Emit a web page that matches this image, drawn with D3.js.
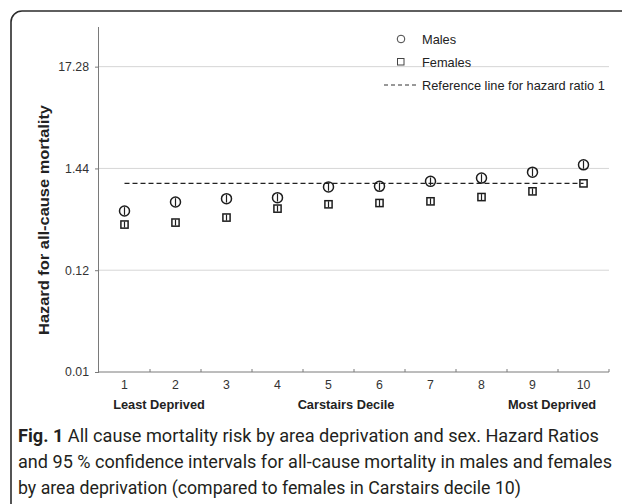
<!DOCTYPE html>
<html><head><meta charset="utf-8">
<script src="https://cdn.jsdelivr.net/npm/d3@7"></script>
<style>
body{margin:0;background:#fff;}svg{display:block;}
.ar{font-family:"Liberation Sans",Arial,sans-serif;}
.cap{font-family:Roboto,"Noto Sans",sans-serif;}
</style>
</head><body>
<svg id="c" width="622" height="504"></svg>
<script>
const categories = ["1","2","3","4","5","6","7","8","9","10"];
const maleHR   = [0.509,0.634,0.689,0.706,0.918,0.930,1.050,1.138,1.314,1.573];
const maleLo   = [0.463,0.576,0.626,0.642,0.835,0.845,0.955,1.035,1.195,1.430];
const maleHi   = [0.560,0.697,0.758,0.777,1.010,1.023,1.155,1.252,1.445,1.730];
const femaleHR = [0.366,0.384,0.434,0.540,0.600,0.619,0.645,0.716,0.823,1.000];
const femaleLo = [0.340,0.357,0.403,0.502,0.558,0.575,0.599,0.665,0.765,1.000];
const femaleHi = [0.394,0.413,0.467,0.581,0.646,0.666,0.694,0.770,0.886,1.000];
const yTicks = [0.01,0.12,1.44,17.28];
const yTickLabels = ["0.01","0.12","1.44","17.28"];
const refValue = 1;
const groupLabels = ["Least Deprived","Carstairs Decile","Most Deprived"];
const legendLabels = ["Males","Females","Reference line for hazard ratio 1"];
const yTitle = "Hazard for all-cause mortality";

const svg = d3.select("#c");
const L = 99, R = 609, T = 27, B = 372;
const x = d3.scaleBand().domain(categories).range([L, R]);
const y = d3.scaleLog().domain([0.01, 45.5]).range([B, T]);

// outer frame
svg.append("rect").attr("x",11).attr("y",11).attr("width",640).attr("height",520)
  .attr("rx",11).attr("fill","none").attr("stroke","#2b2b2b").attr("stroke-width",1.6);

// gridlines
svg.append("g").selectAll("line").data(yTicks.slice(1)).join("line")
  .attr("x1",L).attr("x2",R).attr("y1",d=>y(d)).attr("y2",d=>y(d))
  .attr("stroke","#d6d6d6").attr("stroke-width",1);

// y axis
const ya = svg.append("g").attr("transform",`translate(${L},0)`)
  .call(d3.axisLeft(y).tickValues(yTicks).tickFormat((d,i)=>yTickLabels[i]).tickSize(4).tickPadding(6));
ya.attr("font-family",null);
ya.select(".domain").attr("stroke","#7a7a7a").attr("d",`M-0.5,${T}V${B}`);
ya.selectAll(".tick line").attr("stroke","#7a7a7a");
ya.selectAll("text").attr("class","ar").attr("font-size",12.3).attr("fill","#333");

// x axis
const xa = svg.append("g").attr("transform",`translate(0,${B})`)
  .call(d3.axisBottom(x).tickSize(0).tickPadding(8));
xa.attr("font-family",null);
xa.select(".domain").attr("stroke","#7a7a7a").attr("d",`M${L},0H${R}`);
xa.selectAll("text").attr("class","ar").attr("font-size",12.3).attr("fill","#333");
const bounds = categories.map(c=>x(c)+x.bandwidth());
svg.append("g").selectAll("line").data(bounds).join("line")
  .attr("x1",d=>d).attr("x2",d=>d).attr("y1",B).attr("y2",B-3)
  .attr("stroke","#7a7a7a");

// group labels
svg.append("g").selectAll("text").data(groupLabels).join("text")
  .attr("class","ar")
  .attr("x",(d,i)=>[159,346,552][i]).attr("y",409).attr("text-anchor","middle")
  .attr("font-size",12.8).attr("font-weight","bold")
  .attr("fill","#222").text(d=>d);

// y title
svg.append("text").attr("class","ar").attr("transform","translate(49,220) rotate(-90)").attr("text-anchor","middle")
  .attr("font-size",15.5).attr("font-weight","bold")
  .attr("textLength",230).attr("lengthAdjust","spacingAndGlyphs")
  .attr("fill","#222").text(yTitle);

// reference line
svg.append("line").attr("x1",x("1")+x.bandwidth()/2).attr("x2",x("10")+x.bandwidth()/2)
  .attr("y1",y(refValue)).attr("y2",y(refValue))
  .attr("stroke","#222").attr("stroke-width",1.3).attr("stroke-dasharray","5,3");

const cx = c => x(c)+x.bandwidth()/2;
const ink = "#1e1e1e";
// males
const mg = svg.append("g");
mg.selectAll("line").data(categories).join("line")
  .attr("x1",cx).attr("x2",cx).attr("y1",(d,i)=>y(maleLo[i])).attr("y2",(d,i)=>y(maleHi[i]))
  .attr("stroke",ink).attr("stroke-width",1.2);
mg.selectAll("circle").data(categories).join("circle")
  .attr("cx",cx).attr("cy",(d,i)=>y(maleHR[i])).attr("r",5)
  .attr("fill","none").attr("stroke",ink).attr("stroke-width",1.5);
// females
const fg = svg.append("g");
fg.selectAll("line").data(categories).join("line")
  .attr("x1",cx).attr("x2",cx).attr("y1",(d,i)=>y(femaleLo[i])).attr("y2",(d,i)=>y(femaleHi[i]))
  .attr("stroke",ink).attr("stroke-width",1.2);
fg.selectAll("rect").data(categories).join("rect")
  .attr("x",d=>cx(d)-3.6).attr("y",(d,i)=>y(femaleHR[i])-3.6).attr("width",7.2).attr("height",7.2)
  .attr("fill","none").attr("stroke",ink).attr("stroke-width",1.5);

// legend
svg.append("circle").attr("cx",401).attr("cy",39).attr("r",3.8).attr("fill","none").attr("stroke","#444").attr("stroke-width",1);
svg.append("rect").attr("x",397.5).attr("y",58.5).attr("width",6.5).attr("height",6.5).attr("fill","none").attr("stroke","#444").attr("stroke-width",1);
svg.append("line").attr("x1",384).attr("x2",416).attr("y1",85).attr("y2",85).attr("stroke","#333").attr("stroke-width",1).attr("stroke-dasharray","4,3");
svg.append("g").selectAll("text").data(legendLabels).join("text")
  .attr("class","ar")
  .attr("x",422).attr("y",(d,i)=>[43.5,66.5,89.5][i])
  .attr("font-size",12.8).attr("fill","#222").text(d=>d);

// caption
const c1 = svg.append("text").attr("class","cap").attr("x",18).attr("y",442).attr("font-size",18).attr("fill","#231f20")
  .attr("textLength",581).attr("lengthAdjust","spacingAndGlyphs");
c1.append("tspan").attr("font-weight","bold").text("Fig. 1");
c1.append("tspan").text(" All cause mortality risk by area deprivation and sex. Hazard Ratios");
svg.append("text").attr("class","cap").attr("x",18).attr("y",468).attr("font-size",18).attr("fill","#231f20")
  .attr("textLength",594).attr("lengthAdjust","spacingAndGlyphs")
  .text("and 95 % confidence intervals for all-cause mortality in males and females");
svg.append("text").attr("class","cap").attr("x",18).attr("y",494).attr("font-size",18).attr("fill","#231f20")
  .attr("textLength",503).attr("lengthAdjust","spacingAndGlyphs")
  .text("by area deprivation (compared to females in Carstairs decile 10)");
</script>
</body></html>
